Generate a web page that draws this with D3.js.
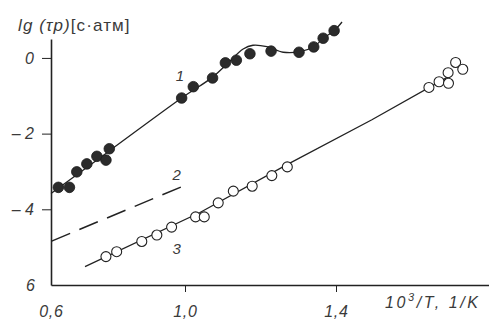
<!DOCTYPE html>
<html>
<head>
<meta charset="utf-8">
<script src="https://cdn.jsdelivr.net/npm/d3@7"></script>
<style>
  html, body { margin: 0; padding: 0; background: #fff; }
  svg { display: block; }
  text { font-family: "Liberation Sans", "DejaVu Sans", sans-serif; fill: #3a3a3a; }
</style>
</head>
<body>
<svg id="chart" width="489" height="323"></svg>
<script>
// ---- data ----
const xTickValues = [0.6, 1.0, 1.4];
const xTickLabels = ["0,6", "1,0", "1,4"];
const yTickValues = [0, -2, -4, -6];
const yTickLabels = ["0", "– 2", "– 4", "6"];

// curve 1: filled circles
const series1X = [0.622, 0.655, 0.677, 0.707, 0.737, 0.764, 0.774, 0.990, 1.022, 1.073, 1.107, 1.136, 1.172, 1.228, 1.302, 1.341, 1.366, 1.395];
const series1Y = [-3.42, -3.42, -3.01, -2.80, -2.60, -2.70, -2.40, -1.06, -0.76, -0.53, -0.13, -0.06, 0.11, 0.18, 0.15, 0.29, 0.52, 0.72];
// fitted curve 1
const curve1X = [0.600, 0.773, 0.991, 1.074, 1.114, 1.154, 1.180, 1.217, 1.260, 1.305, 1.342, 1.366, 1.395, 1.416];
const curve1Y = [-3.584, -2.464, -1.054, -0.501, -0.132, 0.237, 0.335, 0.298, 0.150, 0.166, 0.303, 0.514, 0.719, 0.949];

// curve 2: dashed line (no points)
const line2X = [0.602, 1.005];
const line2Y = [-4.84, -3.346];

// curve 3: open circles
const series3X = [0.764, 0.796, 0.871, 0.916, 0.960, 1.028, 1.051, 1.088, 1.128, 1.178, 1.230, 1.271, 1.647, 1.674, 1.698, 1.699, 1.718, 1.737];
const series3Y = [-5.25, -5.12, -4.85, -4.68, -4.47, -4.20, -4.20, -3.83, -3.52, -3.39, -3.11, -2.88, -0.78, -0.63, -0.39, -0.67, -0.12, -0.30];
const line3X = [0.7015, 1.0397, 1.2702, 1.4954, 1.7073];
const line3Y = [-5.515, -4.084, -2.820, -1.634, -0.448];

// curve labels
const curveNames = ["1", "2", "3"];
const curveNameX = [0.985, 0.975, 0.975];
const curveNameY = [-0.61, -3.22, -5.17];

const yTitle = ["lg (τp)", "[с·атм]"];
const xTitle = ["10", "3", "/T, 1/K"];

// ---- drawing ----
const svg = d3.select("#chart");
const ink = "#222";

const x = d3.scaleLinear().domain([0.6, 1.0, 1.4, 1.82]).range([51, 185, 336, 494]);
const y = d3.scaleLinear().domain([-6, 0.5]).range([285, 39]);

// x axis
const xAxis = d3.axisBottom(x)
  .tickValues(xTickValues)
  .tickFormat((d, i) => xTickLabels[i])
  .tickSize(7).tickSizeOuter(0).tickPadding(14);
const gx = svg.append("g").attr("transform", "translate(0,285)").call(xAxis);
gx.select(".domain").attr("stroke", ink).attr("stroke-width", 1.6);
gx.selectAll(".tick line").attr("stroke", ink).attr("stroke-width", 1)
  .attr("y2", d => d === 0.6 ? 0 : 7);
gx.selectAll(".tick text").attr("font-size", 16).attr("font-style", "italic")
  .attr("fill", "#444").attr("font-family", "Liberation Sans, sans-serif")
  .attr("letter-spacing", 0.8);

// y axis
const yAxis = d3.axisLeft(y)
  .tickValues(yTickValues)
  .tickFormat((d, i) => yTickLabels[i])
  .tickSize(9).tickSizeOuter(0).tickPadding(7);
const gy = svg.append("g").attr("transform", "translate(51,0)").call(yAxis);
gy.select(".domain").attr("stroke", ink).attr("stroke-width", 1.6);
gy.selectAll(".tick line").attr("stroke", ink).attr("stroke-width", 1)
  .attr("x2", d => d === -6 ? 0 : -9);
gy.selectAll(".tick text").attr("font-size", 16).attr("font-style", "italic")
  .attr("fill", "#444").attr("font-family", "Liberation Sans, sans-serif")
  .attr("x", d => d === -6 ? -16 : -17);

// y title
const yt = svg.append("text").attr("x", 18).attr("y", 31).attr("font-size", 17)
  .attr("letter-spacing", 1.1).attr("fill", "#444");
yt.append("tspan").attr("font-style", "italic").text(yTitle[0]);
yt.append("tspan").text(yTitle[1]);

// x title
const xt = svg.append("text").attr("x", 385).attr("y", 308).attr("font-size", 16)
  .attr("font-style", "italic").attr("letter-spacing", 2.6).attr("fill", "#444");
xt.append("tspan").text(xTitle[0]);
xt.append("tspan").attr("dy", -7).attr("font-size", 11).text(xTitle[1]);
xt.append("tspan").attr("dy", 7).text(xTitle[2]);

const toPts = (xs, ys) => xs.map((v, i) => [v, ys[i]]);

// lines
const line = d3.line().x(d => x(d[0])).y(d => y(d[1]));
svg.append("path").datum(toPts(curve1X, curve1Y))
  .attr("d", line.curve(d3.curveCatmullRom.alpha(0.5)))
  .attr("fill", "none").attr("stroke", ink).attr("stroke-width", 1.3);
svg.append("path").datum(toPts(line2X, line2Y))
  .attr("d", d3.line().x(d => x(d[0])).y(d => y(d[1])))
  .attr("fill", "none").attr("stroke", ink).attr("stroke-width", 1.5)
  .attr("stroke-dasharray", "20,10");
svg.append("path").datum(toPts(line3X, line3Y))
  .attr("d", d3.line().x(d => x(d[0])).y(d => y(d[1])).curve(d3.curveLinear))
  .attr("fill", "none").attr("stroke", ink).attr("stroke-width", 1.3);

// markers
svg.append("g").selectAll("circle").data(toPts(series1X, series1Y)).join("circle")
  .attr("cx", d => x(d[0])).attr("cy", d => y(d[1])).attr("r", 5.3)
  .attr("fill", "#2b2b2b").attr("stroke", "#1a1a1a").attr("stroke-width", 0.8);
svg.append("g").selectAll("circle").data(toPts(series3X, series3Y)).join("circle")
  .attr("cx", d => x(d[0])).attr("cy", d => y(d[1])).attr("r", 5)
  .attr("fill", "#fff").attr("stroke", ink).attr("stroke-width", 1.1);

// curve names
svg.append("g").selectAll("text").data(curveNames).join("text")
  .attr("x", (d, i) => x(curveNameX[i])).attr("y", (d, i) => y(curveNameY[i]))
  .attr("text-anchor", "middle").attr("font-size", 15).attr("font-style", "italic")
  .text(d => d);
</script>
</body>
</html>
